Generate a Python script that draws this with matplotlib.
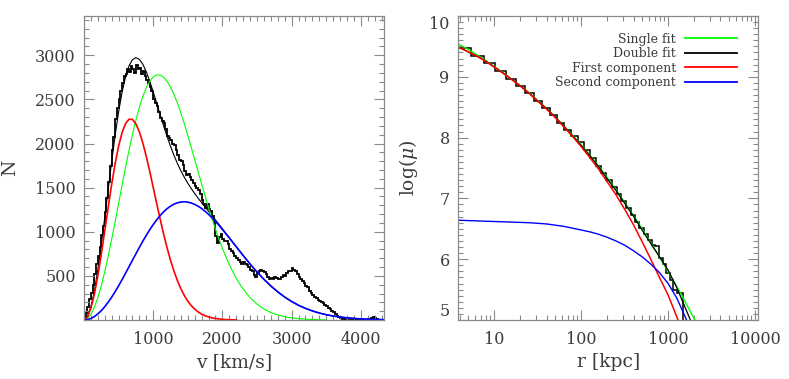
import numpy as np
import matplotlib
matplotlib.use('Agg')
import matplotlib.pyplot as plt
from matplotlib.ticker import MultipleLocator, LogLocator, NullFormatter

plt.rcParams['font.family'] = ['DejaVu Serif']
plt.rcParams['mathtext.fontset'] = 'dejavuserif'

TXT = '#3c3c3c'
AX = '#8a8a8a'

# ---------------- Left panel data: velocity distribution ----------------
vel_bin = 25
vel_counts = [30, 80, 150, 240, 310, 400, 520, 640, 730, 830,
              960, 1070, 1220, 1380, 1560, 1740, 1930, 2070, 2280, 2400,
              2510, 2600, 2690, 2760, 2790, 2840, 2810, 2880, 2840, 2800,
              2890, 2850, 2860, 2790, 2820, 2760, 2720, 2690, 2640, 2590,
              2510, 2460, 2430, 2360, 2290, 2250, 2230, 2170, 2090, 2060,
              2040, 1990, 1980, 1930, 1870, 1810, 1800, 1760, 1690, 1640,
              1660, 1620, 1590, 1550, 1520, 1500, 1470, 1430, 1360, 1320,
              1270, 1320, 1260, 1240, 1180, 1100, 950, 870, 940, 970,
              920, 900, 890, 860, 810, 780, 760, 730, 700, 680,
              660, 640, 660, 640, 620, 600, 570, 550, 510, 490,
              530, 550, 570, 550, 540, 520, 490, 470, 480, 460,
              490, 480, 470, 460, 490, 510, 500, 530, 550, 560,
              590, 570, 550, 520, 490, 460, 440, 420, 390, 370,
              330, 310, 280, 260, 250, 230, 210, 200, 190, 170,
              160, 140, 120, 100, 85, 65, 50, 35, 20, 10,
              6, 4, 5, 3, 4, 2, 6, 4, 3, 5,
              2, 4, 3, 5, 8, 6, 18, 35, 22, 8,
              5, 3]
vel_edges = np.arange(len(vel_counts) + 1) * vel_bin

v_first = np.arange(0, 2201, 50)
n_first = [0, 34, 134, 293, 501, 745, 1010, 1279, 1538, 1772,
           1970, 2123, 2225, 2275, 2273, 2223, 2132, 2006, 1854, 1684,
           1504, 1323, 1145, 976, 820, 679, 554, 446, 354, 277,
           214, 163, 123, 91, 67, 48, 35, 24, 17, 12,
           8, 5, 4, 2, 2]

v_second = np.concatenate([np.arange(0, 2500, 50), np.arange(2500, 4401, 100)])
n_second = [0, 4, 17, 39, 69, 106, 151, 202, 259, 321,
            387, 457, 529, 603, 677, 750, 822, 893, 959, 1023,
            1081, 1135, 1183, 1225, 1261, 1290, 1313, 1328, 1337, 1340,
            1336, 1326, 1310, 1289, 1263, 1232, 1197, 1158, 1117, 1073,
            1026, 978, 930, 880, 830, 780, 731, 683, 635, 589,
            545, 461, 386, 319, 260, 210, 167, 132, 103, 79,
            60, 45, 34, 25, 18, 13, 9, 7, 5, 3]

v_double = np.concatenate([np.arange(0, 2500, 50), np.arange(2500, 4401, 100)])
n_double = [0, 38, 151, 332, 570, 851, 1161, 1481, 1797, 2093,
            2357, 2580, 2754, 2878, 2950, 2973, 2954, 2899, 2813, 2707,
            2585, 2458, 2328, 2201, 2081, 1969, 1867, 1774, 1691, 1617,
            1550, 1489, 1433, 1380, 1330, 1280, 1232, 1182, 1134, 1085,
            1034, 983, 934, 882, 832, 781, 731, 683, 635, 589,
            545, 461, 386, 319, 260, 210, 167, 132, 103, 79,
            60, 45, 34, 25, 18, 13, 9, 7, 5, 3]

v_single = np.concatenate([np.arange(0, 2500, 50), np.arange(2500, 3501, 100)])
n_single = [0, 16, 65, 145, 254, 389, 546, 723, 914, 1115,
            1321, 1527, 1728, 1921, 2101, 2265, 2409, 2532, 2631, 2705,
            2754, 2777, 2777, 2752, 2706, 2640, 2556, 2457, 2345, 2222,
            2092, 1957, 1819, 1679, 1541, 1406, 1275, 1150, 1030, 918,
            813, 717, 628, 547, 475, 409, 351, 299, 254, 215,
            180, 125, 85, 57, 37, 24, 15, 9, 6, 3, 2]

# ---------------- Right panel data: surface density profile ----------------
r_edges = [3.82, 5.45, 7.56, 10.22, 13.53, 17.59, 22.50, 28.38, 35.33, 43.49,
           52.99, 63.96, 76.56, 90.93, 107.2, 125.6, 146.3, 169.5, 195.2, 223.8,
           255.5, 290.4, 328.7, 370.7, 416.7, 466.8, 521.2, 580.3, 644.2, 713.3,
           787.9, 868.1, 954.3, 1046.8, 1145.8, 1251.6, 1364.8, 1485.0, 1700.0]
logmu_hist = [9.48, 9.35, 9.23, 9.10, 8.97, 8.85, 8.74, 8.61, 8.49, 8.37,
              8.24, 8.12, 8.02, 7.92, 7.80, 7.66, 7.54, 7.42, 7.30, 7.18,
              7.07, 6.96, 6.84, 6.73, 6.62, 6.52, 6.41, 6.31, 6.24, 6.22,
              6.02, 5.92, 5.78, 5.66, 5.50, 5.44, 5.44, 4.50]

logr_grid = np.round(np.arange(0.5, 3.45, 0.1), 2)
logmu_single = [9.60, 9.53, 9.45, 9.36, 9.27, 9.17, 9.07, 8.96, 8.85, 8.74,
                8.61, 8.48, 8.34, 8.19, 8.04, 7.88, 7.71, 7.53, 7.34, 7.14,
                6.93, 6.72, 6.50, 6.27, 6.04, 5.80, 5.55, 5.29, 5.02, 4.75]
logmu_first = [9.54, 9.48, 9.41, 9.34, 9.255, 9.16, 9.06, 8.955, 8.845, 8.73,
               8.60, 8.47, 8.33, 8.175, 8.02, 7.85, 7.67, 7.48, 7.27, 7.06,
               6.82, 6.57, 6.29, 6.00, 5.70, 5.41, 5.05, 4.67, 4.29]
logmu_second = [6.64, 6.64, 6.635, 6.63, 6.625, 6.62, 6.615, 6.61, 6.605, 6.60,
                6.59, 6.58, 6.56, 6.54, 6.51, 6.48, 6.45, 6.41, 6.36, 6.30,
                6.23, 6.14, 6.04, 5.92, 5.78, 5.60, 5.36, 5.04, 4.70]
logmu_double = [9.54, 9.48, 9.41, 9.34, 9.26, 9.16, 9.06, 8.96, 8.85, 8.73,
                8.60, 8.48, 8.34, 8.19, 8.03, 7.87, 7.70, 7.52, 7.32, 7.13,
                6.92, 6.71, 6.48, 6.26, 6.04, 5.82, 5.53, 5.19, 4.85]

legend_labels = ['Single fit', 'Double fit', 'First component', 'Second component']

# ---------------- Figure ----------------
fig = plt.figure(figsize=(7.89, 3.79), dpi=100)
W, H = 789, 379
axL = fig.add_axes([84 / W, (H - 320) / H, 300.3 / W, 304 / H])
axR = fig.add_axes([458 / W, (H - 320) / H, 300.3 / W, 304 / H])

# Left
axL.stairs(vel_counts, vel_edges, baseline=None, color='black', lw=1.3)
axL.plot(v_double, n_double, color='black', lw=0.8)
axL.plot(v_single, n_single, color='#00ff00', lw=0.8)
axL.plot(v_first, n_first, color='#ff0000', lw=1.2)
axL.plot(v_second, n_second, color='#0000ff', lw=1.2)
axL.set_xlim(0, 4340)
axL.set_ylim(0, 3445)
axL.set_xticks([1000, 2000, 3000, 4000])
axL.set_yticks([500, 1000, 1500, 2000, 2500, 3000])
axL.xaxis.set_minor_locator(MultipleLocator(100))
axL.yaxis.set_minor_locator(MultipleLocator(100))
axL.set_xlabel('v [km/s]', fontsize=13.5, color=TXT)
axL.set_ylabel('N', fontsize=13.5, color=TXT)
axL.xaxis.set_label_coords(0.5, -0.108)
axL.yaxis.set_label_coords(-0.215, 0.5)

# Right
axR.stairs(logmu_hist, r_edges, baseline=None, color='black', lw=1.1)
r_single = 10 ** logr_grid[:len(logmu_single)]
r_comp = 10 ** logr_grid[:len(logmu_first)]
l1, = axR.plot(r_single, logmu_single, color='#00ff00', lw=1.0)
l2, = axR.plot(r_comp, logmu_double, color='black', lw=0.9)
l3, = axR.plot(r_comp, logmu_first, color='#ff0000', lw=1.1)
l4, = axR.plot(r_comp, logmu_second, color='#0000ff', lw=1.0)
axR.set_xscale('log')
axR.set_xlim(3.82, 10900)
axR.set_ylim(5, 10)
axR.set_xticks([10, 100, 1000, 10000])
axR.set_xticklabels(['10', '100', '1000', '10000'])
axR.xaxis.set_minor_locator(LogLocator(base=10, subs=range(2, 10), numticks=20))
axR.xaxis.set_minor_formatter(NullFormatter())
axR.set_yticks([5, 6, 7, 8, 9, 10])
axR.yaxis.set_minor_locator(MultipleLocator(0.1))
axR.set_xlabel('r [kpc]', fontsize=13.5, color=TXT)
axR.set_ylabel(r'log($\mu$)', fontsize=13.5, color=TXT)
axR.xaxis.set_label_coords(0.5, -0.108)
axR.yaxis.set_label_coords(-0.125, 0.5)

leg = axR.legend([l1, l2, l3, l4], legend_labels, loc='upper right',
                 bbox_to_anchor=(0.928, 0.945), frameon=False, markerfirst=False,
                 fontsize=9, handlelength=4.1, handletextpad=0.75,
                 labelspacing=0.12, borderpad=0, borderaxespad=0)
for t in leg.get_texts():
    t.set_color(TXT)
for h in leg.get_lines():
    h.set_linewidth(1.3)

for ax in (axL, axR):
    for s in ax.spines.values():
        s.set_color(AX)
        s.set_linewidth(0.9)
    ax.tick_params(which='both', direction='in', top=True, right=True,
                   color=AX, width=0.8, labelcolor=TXT, labelsize=11.5)
    ax.tick_params(which='major', length=7, pad=6)
    ax.tick_params(which='minor', length=3.5)
    ax.tick_params(axis='x', which='major', pad=8)

yt = axR.yaxis.get_major_ticks()
yt[0].label1.set_verticalalignment('bottom')
yt[-1].label1.set_verticalalignment('top')

fig.savefig('out.png', dpi=100)
